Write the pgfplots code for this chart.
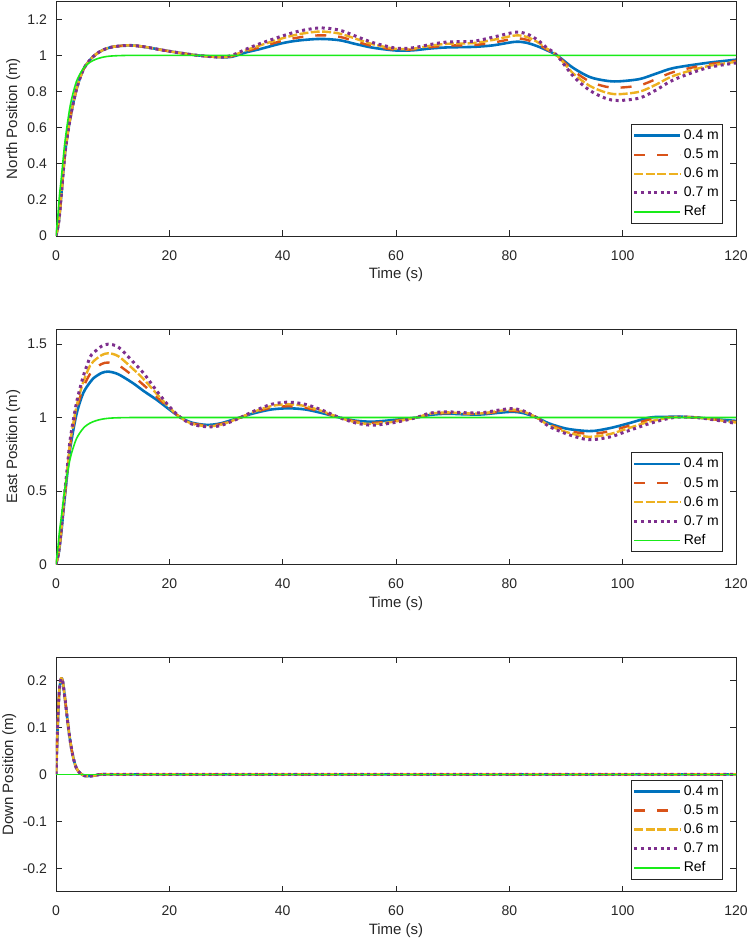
\documentclass[border=0pt]{standalone}
\usepackage{fontspec}
\setmainfont{Liberation Sans}
\usepackage{pgfplots}
\pgfplotsset{compat=1.18}
\definecolor{mblue}{RGB}{0,114,189}
\definecolor{morange}{RGB}{217,83,25}
\definecolor{myellow}{RGB}{237,177,32}
\definecolor{mpurple}{RGB}{126,47,142}
\definecolor{mgreen}{RGB}{25,235,25}
\definecolor{axgray}{RGB}{38,38,38}
\pgfplotsset{
 mat/.style={
  scale only axis, width=340pt, height=117.4pt, anchor=south west,
  xmin=0, xmax=120, xtick={0,20,...,120},
  axis line style={axgray, line width=0.35pt},
  tick style={axgray, line width=0.35pt},
  tick align=inside, major tick length=2.8pt, tick pos=both,
  minor tick num=0,
  /pgf/number format/assume math mode=true,
  tick label style={font=\fontsize{7}{8}\selectfont, text=axgray},
  xticklabel style={yshift=-3.6pt},
  yticklabel style={xshift=-1pt},
  label style={font=\fontsize{7.5}{9}\selectfont, text=axgray},
  xlabel={Time (s)},
  xlabel style={at={(axis description cs:0.5,0)}, anchor=north, yshift=-12.5pt},
  legend style={at={(0.980,0.053)}, anchor=south east, draw=axgray, line width=0.35pt,
   fill=white, font=\fontsize{7}{8}\selectfont, inner xsep=0.6pt, inner ysep=0.8pt,
   nodes={inner ysep=1.75pt, inner xsep=1pt, text height=5pt, text depth=1.05pt}, row sep=0pt},
  legend cell align=left,
  legend image code/.code={\draw[##1] (0pt,0pt) -- (23pt,0pt);},
 },
 sb/.style={mblue, line width=1.3pt, smooth},
 so/.style={morange, line width=1.2pt, dash pattern=on 5.5pt off 6pt, smooth},
 sy/.style={myellow, line width=1.2pt, dash pattern=on 4.5pt off 1.2pt, smooth},
 sp/.style={mpurple, line width=1.5pt, dash pattern=on 1.5pt off 1.8pt, smooth},
 sg/.style={mgreen, line width=0.8pt, smooth},
}
\begin{document}
\begin{tikzpicture}
\useasboundingbox (0,0) rectangle (374.5pt,471pt);
% ---------------- North ----------------
\begin{axis}[mat, at={(28pt,353pt)}, ymin=0, ymax=1.3, ytick={0,0.2,...,1.2},
  ylabel={North Position (m)},
  ylabel style={at={(axis description cs:-0.0628,0.5)}, anchor=center}]
\addplot[sb] coordinates {(0,0)(0.5,0.08)(1,0.25)(1.6,0.46)(2.5,0.65)(3.6,0.81)(4.8,0.92)(6,0.975)(7,1.005)(8.3,1.03)(10,1.047)(12.5,1.055)(14.5,1.052)(16.6,1.042)(19,1.028)(22,1.013)(25,1.0)(29,0.99)(31,0.992)(33.6,1.017)(36,1.035)(40,1.068)(43,1.083)(46.6,1.091)(50,1.084)(53,1.062)(56,1.042)(60,1.027)(63,1.028)(66,1.038)(69,1.044)(73.6,1.047)(77,1.055)(81,1.075)(83,1.07)(85,1.05)(86.5,1.03)(88.4,1.0)(91.3,0.93)(94.2,0.88)(97,0.86)(99.2,0.856)(103,0.869)(106,0.9)(109,0.93)(114.8,0.958)(120,0.976)};
\addplot[so] coordinates {(0,0)(0.5,0.08)(1,0.25)(1.6,0.46)(2.5,0.65)(3.6,0.81)(4.8,0.92)(6,0.975)(7,1.005)(8.3,1.03)(10,1.047)(12.5,1.055)(14.5,1.052)(16.6,1.042)(19,1.028)(22,1.013)(25,1.0)(29,0.99)(31,0.995)(33.6,1.023)(36,1.045)(40,1.081)(43,1.100)(46.6,1.111)(50,1.103)(53,1.076)(56,1.051)(60,1.031)(63,1.033)(66,1.045)(69,1.054)(73.6,1.057)(77,1.070)(81,1.093)(83,1.087)(85,1.062)(86.5,1.035)(88.4,1.0)(91.3,0.915)(94.2,0.855)(97,0.827)(99.2,0.821)(103,0.834)(106,0.87)(109,0.908)(114.8,0.949)(120,0.97)};
\addplot[sy] coordinates {(0,0)(0.5,0.08)(1,0.25)(1.6,0.46)(2.5,0.65)(3.6,0.81)(4.8,0.92)(6,0.975)(7,1.005)(8.3,1.03)(10,1.047)(12.5,1.055)(14.5,1.052)(16.6,1.042)(19,1.028)(22,1.013)(25,1.0)(29,0.99)(31,0.997)(33.6,1.029)(36,1.055)(40,1.095)(43,1.118)(46.6,1.132)(50,1.121)(53,1.091)(56,1.061)(60,1.036)(63,1.037)(66,1.053)(69,1.064)(73.6,1.068)(77,1.085)(81,1.110)(83,1.103)(85,1.073)(86.5,1.04)(88.4,1.0)(91.3,0.899)(94.2,0.831)(97,0.795)(99.2,0.785)(103,0.799)(106,0.84)(109,0.887)(114.8,0.939)(120,0.964)};
\addplot[sp] coordinates {(0,0)(0.5,0.08)(1,0.25)(1.6,0.46)(2.5,0.65)(3.6,0.81)(4.8,0.92)(6,0.975)(7,1.005)(8.3,1.03)(10,1.047)(12.5,1.055)(14.5,1.052)(16.6,1.042)(19,1.028)(22,1.013)(25,1.0)(29,0.99)(31,1.0)(33.6,1.035)(36,1.065)(40,1.108)(43,1.135)(46.6,1.152)(50,1.14)(53,1.105)(56,1.07)(60,1.04)(63,1.042)(66,1.06)(69,1.074)(73.6,1.078)(77,1.1)(81,1.128)(83,1.12)(85,1.085)(86.5,1.045)(88.4,1.0)(91.3,0.884)(94.2,0.806)(97,0.762)(99.2,0.75)(103,0.764)(106,0.81)(109,0.865)(114.8,0.93)(120,0.958)};
\addplot[sg] coordinates {(0,0)(0.3,0.1)(0.6,0.22)(1,0.34)(1.5,0.5)(2,0.62)(2.5,0.72)(3,0.79)(3.6,0.855)(4.2,0.895)(5,0.935)(6,0.962)(7,0.978)(8,0.988)(9,0.994)(10,0.997)(11.5,0.999)(13,1.0)(15,1.0)(18,1.0)(22,1.0)(27,1.0)(33,1.0)(40,1.0)(50,1.0)(60,1.0)(70,1.0)(80,1.0)(90,1.0)(100,1.0)(110,1.0)(120,1.0)};
\legend{0.4 m,0.5 m,0.6 m,0.7 m,Ref}
\end{axis}
% ---------------- East ----------------
\begin{axis}[mat, at={(28pt,188.85pt)}, ymin=0, ymax=1.6, ytick={0,0.5,1,1.5},
  ylabel={East Position (m)},
  ylabel style={at={(axis description cs:-0.0628,0.5)}, anchor=center}]
\addplot[sb] coordinates {(0,0)(0.5,0.08)(1,0.24)(1.3,0.36)(2,0.62)(2.5,0.79)(3.6,1.02)(4.8,1.166)(6,1.24)(6.6,1.268)(8,1.303)(9.2,1.313)(11,1.295)(13.6,1.234)(15.5,1.18)(17.8,1.12)(20,1.055)(22,1.0)(24,0.965)(26.6,0.95)(29,0.96)(32,0.995)(35,1.03)(38,1.055)(41,1.063)(44,1.055)(47,1.03)(50,1.0)(53,0.978)(56,0.972)(60,0.985)(63.6,1.0)(66,1.018)(69,1.026)(72,1.022)(75,1.021)(78,1.032)(80.5,1.039)(82.5,1.03)(84.8,1.0)(87,0.96)(90,0.925)(93,0.91)(95,0.909)(98,0.93)(101,0.96)(104.8,1.0)(108,1.005)(110,1.006)(113,1.0)(116,0.99)(120,0.977)};
\addplot[so] coordinates {(0,0)(0.5,0.083)(1,0.25)(1.3,0.373)(2,0.633)(2.5,0.81)(3.6,1.046)(4.8,1.204)(6,1.297)(6.6,1.325)(8,1.364)(9.2,1.375)(11,1.357)(13.6,1.283)(15.5,1.22)(17.8,1.14)(20,1.062)(22,1.0)(24,0.962)(26.6,0.946)(29,0.955)(32,0.993)(35,1.035)(38,1.067)(41,1.077)(44,1.067)(47,1.037)(50,1.0)(53,0.973)(56,0.964)(60,0.979)(63.6,1.0)(66,1.022)(69,1.03)(72,1.026)(75,1.025)(78,1.038)(80.5,1.046)(82.5,1.035)(84.8,1.0)(87,0.953)(90,0.913)(93,0.892)(95,0.889)(98,0.91)(101,0.943)(104.8,0.987)(108,1.001)(110,1.005)(113,1.0)(116,0.988)(120,0.971)};
\addplot[sy] coordinates {(0,0)(0.5,0.087)(1,0.26)(1.3,0.387)(2,0.647)(2.5,0.83)(3.6,1.071)(4.8,1.241)(6,1.353)(6.6,1.383)(8,1.424)(9.2,1.438)(11,1.418)(13.6,1.331)(15.5,1.26)(17.8,1.16)(20,1.068)(22,1.0)(24,0.958)(26.6,0.941)(29,0.95)(32,0.992)(35,1.04)(38,1.078)(41,1.091)(44,1.078)(47,1.043)(50,1.0)(53,0.967)(56,0.956)(60,0.974)(63.6,1.0)(66,1.026)(69,1.035)(72,1.029)(75,1.028)(78,1.044)(80.5,1.054)(82.5,1.04)(84.8,1.0)(87,0.947)(90,0.902)(93,0.873)(95,0.87)(98,0.89)(101,0.927)(104.8,0.973)(108,0.997)(110,1.004)(113,1.0)(116,0.987)(120,0.966)};
\addplot[sp] coordinates {(0,0)(0.5,0.09)(1,0.27)(1.3,0.4)(2,0.66)(2.5,0.85)(3.6,1.097)(4.8,1.279)(6,1.41)(6.6,1.44)(8,1.485)(9.2,1.5)(11,1.48)(13.6,1.38)(15.5,1.30)(17.8,1.18)(20,1.075)(22,1.0)(24,0.955)(26.6,0.937)(29,0.945)(32,0.99)(35,1.045)(38,1.09)(41,1.105)(44,1.09)(47,1.05)(50,1.0)(53,0.962)(56,0.948)(60,0.968)(63.6,1.0)(66,1.03)(69,1.039)(72,1.033)(75,1.032)(78,1.05)(80.5,1.061)(82.5,1.045)(84.8,1.0)(87,0.94)(90,0.89)(93,0.855)(95,0.85)(98,0.87)(101,0.91)(104.8,0.96)(108,0.993)(110,1.003)(113,1.0)(116,0.985)(120,0.96)};
\addplot[sg] coordinates {(0,0)(0.3,0.1)(0.6,0.22)(1,0.34)(1.5,0.5)(2,0.62)(2.5,0.72)(3,0.79)(3.6,0.855)(4.2,0.895)(5,0.935)(6,0.962)(7,0.978)(8,0.988)(9,0.994)(10,0.997)(11.5,0.999)(13,1.0)(15,1.0)(18,1.0)(22,1.0)(27,1.0)(33,1.0)(40,1.0)(50,1.0)(60,1.0)(70,1.0)(80,1.0)(90,1.0)(100,1.0)(110,1.0)(120,1.0)};
\legend{0.4 m,0.5 m,0.6 m,0.7 m,Ref}
\end{axis}
% ---------------- Down ----------------
\begin{axis}[mat, at={(28pt,25.15pt)}, ymin=-0.25, ymax=0.25, ytick={-0.2,-0.1,0,0.1,0.2},
  ylabel={Down Position (m)},
  ylabel style={at={(axis description cs:-0.0687,0.5)}, anchor=center}]
\addplot[sb] coordinates {(0,0)(0.2,0.07)(0.4,0.135)(0.6,0.18)(0.9,0.204)(1.2,0.197)(1.6,0.16)(2,0.118)(2.4,0.08)(2.8,0.05)(3.2,0.028)(3.6,0.013)(4.2,0.003)(5,-0.003)(6,-0.004)(7,-0.002)(8,0)(9,0)(10.5,0)(12.5,0)(15,0)(20,0)(27,0)(35,0)(45,0)(55,0)(65,0)(75,0)(85,0)(95,0)(105,0)(120,0)};
\addplot[so] coordinates {(0,0)(0.2,0.07)(0.4,0.135)(0.6,0.18)(0.9,0.204)(1.2,0.197)(1.6,0.16)(2,0.118)(2.4,0.08)(2.8,0.05)(3.2,0.028)(3.6,0.013)(4.2,0.003)(5,-0.003)(6,-0.004)(7,-0.002)(8,0)(9,0)(10.5,0)(12.5,0)(15,0)(20,0)(27,0)(35,0)(45,0)(55,0)(65,0)(75,0)(85,0)(95,0)(105,0)(120,0)};
\addplot[sy] coordinates {(0,0)(0.2,0.07)(0.4,0.135)(0.6,0.18)(0.9,0.204)(1.2,0.197)(1.6,0.16)(2,0.118)(2.4,0.08)(2.8,0.05)(3.2,0.028)(3.6,0.013)(4.2,0.003)(5,-0.003)(6,-0.004)(7,-0.002)(8,0)(9,0)(10.5,0)(12.5,0)(15,0)(20,0)(27,0)(35,0)(45,0)(55,0)(65,0)(75,0)(85,0)(95,0)(105,0)(120,0)};
\addplot[sp] coordinates {(0,0)(0.2,0.07)(0.4,0.135)(0.6,0.18)(0.9,0.204)(1.2,0.197)(1.6,0.16)(2,0.118)(2.4,0.08)(2.8,0.05)(3.2,0.028)(3.6,0.013)(4.2,0.003)(5,-0.003)(6,-0.004)(7,-0.002)(8,0)(9,0)(10.5,0)(12.5,0)(15,0)(20,0)(27,0)(35,0)(45,0)(55,0)(65,0)(75,0)(85,0)(95,0)(105,0)(120,0)};
\addplot[sg] coordinates {(0,0)(30,0)(60,0)(90,0)(120,0)};
\legend{0.4 m,0.5 m,0.6 m,0.7 m,Ref}
\end{axis}
\end{tikzpicture}
\end{document}
